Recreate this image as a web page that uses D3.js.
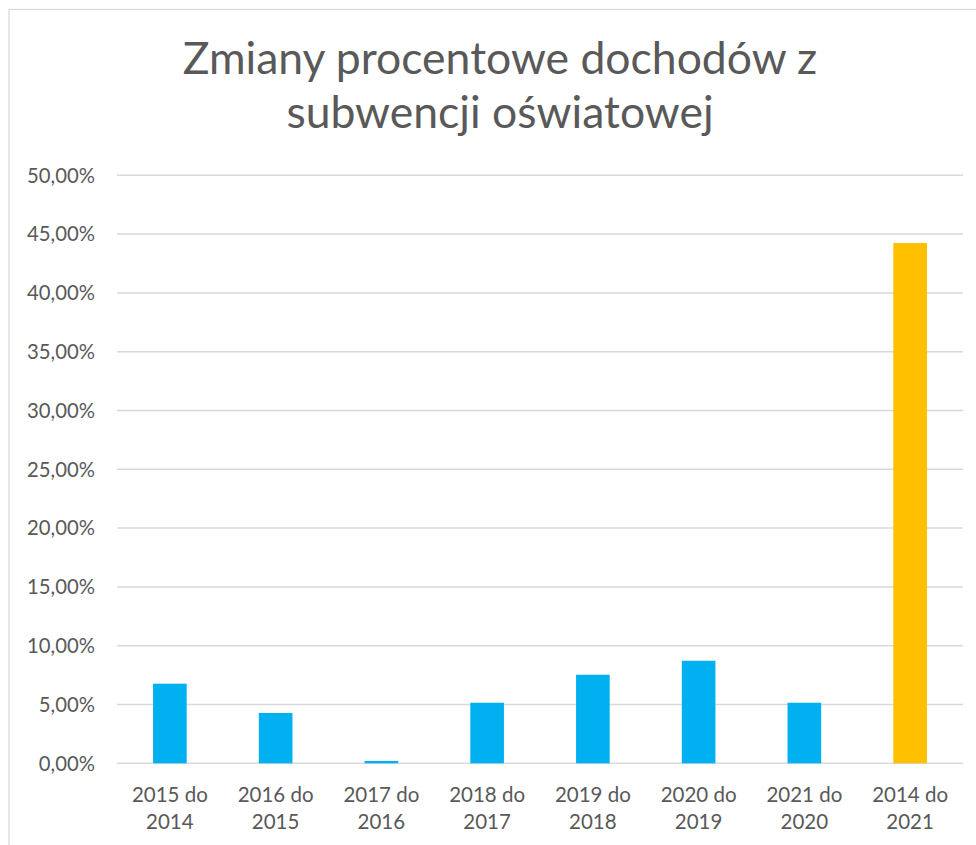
<!DOCTYPE html>
<html>
<head>
<meta charset="utf-8">
<script src="https://cdn.jsdelivr.net/npm/d3@7"></script>
<style>
  html, body { margin: 0; padding: 0; background: #fff; }
  svg { display: block; }
</style>
</head>
<body>
<svg id="chart" width="976" height="845"></svg>
<script>
const categories = [
  ["2015 do", "2014"],
  ["2016 do", "2015"],
  ["2017 do", "2016"],
  ["2018 do", "2017"],
  ["2019 do", "2018"],
  ["2020 do", "2019"],
  ["2021 do", "2020"],
  ["2014 do", "2021"]
];
const values = [6.77, 4.28, 0.20, 5.15, 7.53, 8.72, 5.15, 44.24];
const barColors = ["#00B0F0", "#00B0F0", "#00B0F0", "#00B0F0", "#00B0F0", "#00B0F0", "#00B0F0", "#FFC000"];
const yTicks = [0, 5, 10, 15, 20, 25, 30, 35, 40, 45, 50];
const titleLines = ["Zmiany procentowe dochodów z", "subwencji oświatowej"];

const svg = d3.select("#chart");
const font = "Lato, 'Open Sans', sans-serif";
const textColor = "#595959";

// chart border
svg.append("rect")
  .attr("x", 9).attr("y", 9.5)
  .attr("width", 990).attr("height", 900)
  .attr("fill", "none").attr("stroke", "#d9d9d9").attr("stroke-width", 1.2);

const plot = { left: 117, right: 963, top: 175.3, bottom: 763.3 };

const x = d3.scaleBand()
  .domain(d3.range(categories.length))
  .range([plot.left, plot.right])
  .padding(0);
const barW = x.bandwidth() * 0.318;

const y = d3.scaleLinear().domain([0, 50]).range([plot.bottom, plot.top]);

// gridlines
svg.append("g").selectAll("line").data(yTicks).join("line")
  .attr("x1", plot.left).attr("x2", plot.right)
  .attr("y1", d => y(d)).attr("y2", d => y(d))
  .attr("stroke", "#d9d9d9").attr("stroke-width", 1.5);

// y labels
svg.append("g").selectAll("text").data(yTicks).join("text")
  .attr("x", 95).attr("y", d => y(d))
  .attr("dy", "0.36em")
  .attr("text-anchor", "end")
  .attr("font-family", font).attr("font-size", 20.3)
  .attr("fill", textColor)
  .text(d => d3.format(".2f")(d).replace(".", ",") + "%");

// bars
svg.append("g").selectAll("rect").data(values).join("rect")
  .attr("x", (d, i) => x(i) + x.bandwidth() / 2 - barW / 2)
  .attr("width", barW)
  .attr("y", d => y(d))
  .attr("height", d => y(0) - y(d))
  .attr("fill", (d, i) => barColors[i]);

// x labels
const xl = svg.append("g").selectAll("text").data(categories).join("text")
  .attr("text-anchor", "middle")
  .attr("font-family", font).attr("font-size", 20.5)
  .attr("fill", textColor);
xl.each(function(d, i) {
  const t = d3.select(this);
  d.forEach((line, j) => {
    t.append("tspan")
      .attr("x", x(i) + x.bandwidth() / 2)
      .attr("y", 801.5 + j * 27.5)
      .text(line);
  });
});

// title
svg.append("g").selectAll("text").data(titleLines).join("text")
  .attr("x", 500)
  .attr("y", (d, i) => 74 + i * 54)
  .attr("text-anchor", "middle")
  .attr("font-family", font).attr("font-size", 44.5)
  .attr("fill", textColor)
  .text(d => d);
</script>
</body>
</html>
